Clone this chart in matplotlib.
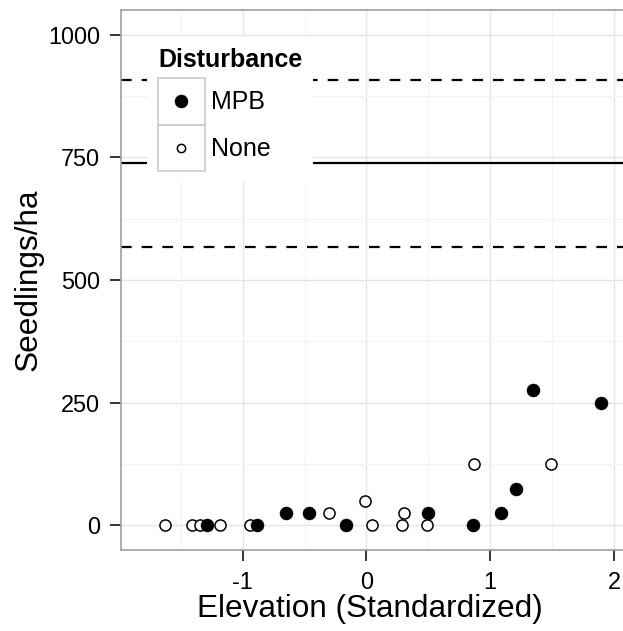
import matplotlib
matplotlib.use("Agg")
import numpy as np
import matplotlib.pyplot as plt
from matplotlib.ticker import MultipleLocator, FixedLocator
from matplotlib.patches import Rectangle

plt.rcParams['font.family'] = ['Liberation Sans', 'DejaVu Sans']

# ---- data ----
mpb_x = [-1.29, -0.885, -0.648, -0.465, -0.169, 0.494, 0.86, 1.089, 1.207, 1.349, 1.893]
mpb_y = [0, 0, 25, 25, 0, 25, 0, 25, 75, 275, 250]
none_x = [-1.627, -1.41, -1.346, -1.18, -0.938, -0.304, -0.008, 0.048, 0.288, 0.301, 0.492, 0.873, 1.49]
none_y = [0, 0, 0, 0, 0, 25, 50, 0, 0, 25, 0, 125, 125]
mean_line = 738
ci_lines = [568, 908]
x_ticks = [-1, 0, 1, 2]
y_ticks = [0, 250, 500, 750, 1000]
legend_title = "Disturbance"
legend_labels = ["MPB", "None"]

W, H = 623, 631
fig = plt.figure(figsize=(W / 100, H / 100), dpi=100)
ax = fig.add_axes([121 / W, (H - 550) / H, (W - 121) / W, (550 - 10) / H])

ax.set_xlim(-1.983, 2.073)
ax.set_ylim(-50, 1050)

# grid
ax.xaxis.set_major_locator(FixedLocator(x_ticks))
ax.yaxis.set_major_locator(FixedLocator(y_ticks))
ax.xaxis.set_minor_locator(MultipleLocator(0.5))
ax.yaxis.set_minor_locator(MultipleLocator(125))
ax.grid(which='major', color='#e6e6e6', lw=1.0, zorder=0)
ax.grid(which='minor', color='#f4f4f4', lw=0.8, zorder=0)
ax.set_axisbelow(True)

# reference lines
ax.axhline(mean_line, color='black', lw=1.6, zorder=2)
for v in ci_lines:
    ax.axhline(v, color='black', lw=1.6, ls=(0, (4.8, 4.5)), zorder=2)

# points
h_none, = ax.plot(none_x, none_y, ls='none', marker='o', ms=8.0, mfc='white',
                  mec='black', mew=1.1, zorder=3)
h_mpb, = ax.plot(mpb_x, mpb_y, ls='none', marker='o', ms=9.4, mfc='black',
                 mec='black', mew=0.3, zorder=4)

# spines & ticks
for s in ['left', 'bottom', 'top']:
    ax.spines[s].set_color('#a0a0a0')
    ax.spines[s].set_linewidth(1.2)
ax.spines['right'].set_visible(False)
ax.tick_params(which='major', direction='out', length=8, width=1.4, color='#333333',
               labelsize=16.9, labelcolor='black', pad=7)
ax.tick_params(which='minor', length=0)
ax.set_xticklabels([str(t) for t in x_ticks])
ax.set_yticklabels([str(t) for t in y_ticks])

ax.set_xlabel("Elevation (Standardized)", fontsize=22.7)
ax.xaxis.set_label_coords(369.5 / W, 1 - 594 / H, transform=fig.transFigure)
ax.xaxis.label.set_va('top')
ax.set_ylabel("Seedlings/ha", fontsize=22.7, labelpad=3)

# legend
fs = 18
leg = ax.legend([h_mpb, h_none], legend_labels, title=legend_title,
                loc='upper left', bbox_to_anchor=(147 / W, 1 - 37 / H),
                bbox_transform=fig.transFigure, borderaxespad=0,
                fontsize=fs, title_fontproperties={'weight': 'bold', 'size': 18},
                alignment='left', frameon=True, facecolor='white', edgecolor='none',
                framealpha=1, fancybox=False, borderpad=0.44, labelspacing=0,
                handlelength=1.867, handleheight=2.495, handletextpad=0.27, numpoints=1)
leg.set_zorder(10)
leg._legend_box.sep = 4.3
leg.legend_handles[0].set_markersize(9.4)
leg.legend_handles[1].set_markersize(6.0)

fig.canvas.draw()
r = fig.canvas.get_renderer()
rows = leg._legend_handle_box.get_children()[0].get_children()
for row, hd in zip(rows, leg.legend_handles):
    da = row.get_children()[0]
    box = da.get_window_extent(r)
    bb = hd.get_window_extent(r)
    my = (bb.y0 + bb.y1) / 2
    shift_pt = ((box.y0 + box.y1) / 2 - my) * 72 / 100
    hd.set_ydata(np.asarray(hd.get_ydata()) + shift_pt)
    rect = Rectangle((box.x0 / W, box.y0 / H), box.width / W, box.height / H,
                     transform=fig.transFigure, facecolor='none', edgecolor='#cccccc',
                     lw=1.2, zorder=11)
    fig.add_artist(rect)

fig.savefig("out.png", dpi=100)
